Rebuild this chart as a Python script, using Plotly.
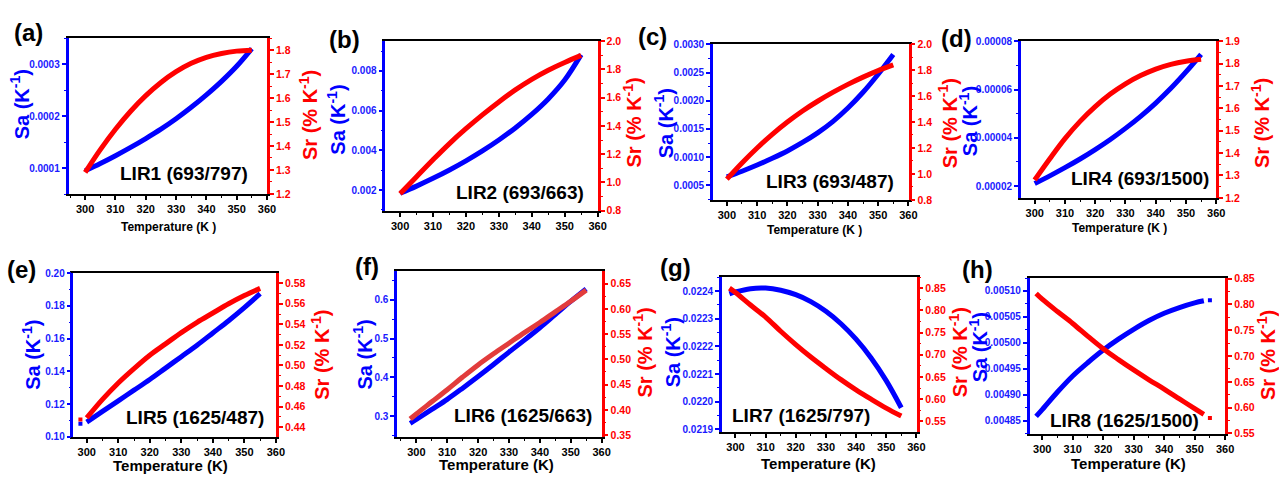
import plotly.graph_objects as go

W, H = 1279, 479
BLUE = "#0000ff"
BLUE_TXT = "#1a1aff"
RED = "#ff0000"
RED_F = "#e23c3c"
FONT = "Liberation Sans, Arial, sans-serif"

# ---------------- data ----------------
T_a = [300, 305, 310, 315, 320, 325, 330, 335, 340, 345, 350, 355]
SA_a = [0.000095, 0.000109, 0.000124, 0.000140, 0.000157, 0.000175, 0.000195, 0.000217, 0.000241, 0.000267, 0.000296, 0.000330]
SR_a = [1.29, 1.385, 1.47, 1.545, 1.61, 1.665, 1.71, 1.745, 1.77, 1.786, 1.796, 1.80]

T_b = [300, 305, 310, 315, 320, 325, 330, 335, 340, 345, 350, 355]
SA_b = [0.00184, 0.00220, 0.00259, 0.00301, 0.00347, 0.00397, 0.00452, 0.00513, 0.00581, 0.00659, 0.00754, 0.00882]
SR_b = [0.92, 1.04, 1.16, 1.275, 1.38, 1.478, 1.57, 1.655, 1.73, 1.795, 1.85, 1.90]

T_c = [300, 305, 310, 315, 320, 325, 330, 335, 340, 345, 350, 355]
SA_c = [0.00065, 0.00075, 0.00086, 0.00098, 0.00111, 0.00126, 0.00143, 0.00163, 0.00187, 0.00215, 0.00247, 0.00282]
SR_c = [0.96, 1.085, 1.20, 1.305, 1.40, 1.485, 1.56, 1.628, 1.69, 1.746, 1.796, 1.84]

T_d = [300, 305, 310, 315, 320, 325, 330, 335, 340, 345, 350, 355]
SA_d = [2.10e-5, 2.42e-5, 2.76e-5, 3.12e-5, 3.51e-5, 3.93e-5, 4.39e-5, 4.89e-5, 5.44e-5, 6.05e-5, 6.73e-5, 7.46e-5]
SR_d = [1.28, 1.375, 1.465, 1.542, 1.608, 1.664, 1.71, 1.747, 1.776, 1.797, 1.811, 1.82]

T_e = [300, 305, 310, 315, 320, 325, 330, 335, 340, 345, 350, 355]
SA_e = [0.109, 0.1155, 0.122, 0.1285, 0.135, 0.142, 0.149, 0.156, 0.1635, 0.171, 0.179, 0.1875]
SR_e = [0.449, 0.467, 0.483, 0.497, 0.510, 0.521, 0.532, 0.542, 0.551, 0.560, 0.568, 0.575]
T_e_extra = [298]
SA_e_extra = [0.108]
SR_e_extra = [0.4475]

T_f = [298, 300, 305, 310, 315, 320, 325, 330, 335, 340, 345, 350, 355]
SA_f = [0.281, 0.291, 0.317, 0.343, 0.372, 0.402, 0.433, 0.465, 0.496, 0.528, 0.562, 0.596, 0.628]
SR_f = [0.382, 0.392, 0.416, 0.440, 0.465, 0.489, 0.511, 0.532, 0.553, 0.573, 0.594, 0.615, 0.637]

T_g = [298, 300, 305, 310, 315, 320, 325, 330, 335, 340, 345, 350, 355]
SA_g = [0.022390, 0.022397, 0.022409, 0.022411, 0.022403, 0.022387, 0.022362, 0.022327, 0.022282, 0.022226, 0.022158, 0.022076, 0.021978]
SR_g = [0.850, 0.840, 0.812, 0.785, 0.753, 0.723, 0.695, 0.669, 0.644, 0.621, 0.600, 0.580, 0.562]

T_h = [298, 300, 305, 310, 315, 320, 325, 330, 335, 340, 345, 350, 353]
SA_h = [0.004858, 0.004871, 0.004905, 0.004936, 0.004962, 0.004986, 0.005007, 0.005026, 0.005043, 0.005057, 0.005068, 0.005077, 0.005081]
SR_h = [0.821, 0.810, 0.786, 0.763, 0.738, 0.714, 0.693, 0.673, 0.654, 0.636, 0.617, 0.598, 0.587]
T_h_extra = [355]
SA_h_extra = [0.005082]
SR_h_extra = [0.580]

LETTERS = ["(a)", "(b)", "(c)", "(d)", "(e)", "(f)", "(g)", "(h)"]
LIR_LABELS = ["LIR1 (693/797)", "LIR2 (693/663)", "LIR3 (693/487)", "LIR4 (693/1500)",
              "LIR5 (1625/487)", "LIR6 (1625/663)", "LIR7 (1625/797)", "LIR8 (1625/1500)"]
XTITLES = ["Temperature (K )", None, "Temperature (K )", "Temperature (K )",
           "Temperature (K)", "Temperature (K)", "Temperature (K)", "Temperature (K)"]
SA_TITLE = "Sa (K<sup>-1</sup>)"
SR_TITLE = "Sr (% K<sup>-1</sup>)"

series = [
    (T_a, SA_a, SR_a), (T_b, SA_b, SR_b), (T_c, SA_c, SR_c), (T_d, SA_d, SR_d),
    (T_e, SA_e, SR_e), (T_f, SA_f, SR_f), (T_g, SA_g, SR_g), (T_h, SA_h, SR_h),
]

# ---------------- layout (pixel boxes and axis settings) ----------------
panels = [
    dict(box=(69, 269, 33, 193), xr=(294.5, 360.05), yl=(0.00005, 0.00035), yr=(1.199, 1.85),
         ldt=0.0001, lfmt=".4f", rdt=0.1, rfmt=".1f",
         letter=(29, 27), sa=(20, 101), sr=(310, 112), xt=(170, 227), lir=(252, 172)),
    dict(box=(388, 602, 36, 210), xr=(295.5, 360.05), yl=(0.00096, 0.0095), yr=(0.799, 2.001),
         ldt=0.002, lfmt=".3f", rdt=0.2, rfmt=".1f",
         letter=(347, 34), sa=(338, 117), sr=(637, 120), xt=None, lir=(590, 191)),
    dict(box=(718, 915, 39, 199), xr=(295.4, 360.05), yl=(0.00024, 0.003005), yr=(0.799, 2.001),
         ldt=0.0005, lfmt=".4f", rdt=0.2, rfmt=".1f",
         letter=(657, 31), sa=(669, 120), sr=(955, 120), xt=(820, 230), lir=(902, 180)),
    dict(box=(1028, 1225, 36, 197), xr=(295.4, 360.05), yl=(0.000015, 0.0000801), yr=(1.199, 1.901),
         ldt=0.00002, lfmt=".5f", rdt=0.1, rfmt=".1f",
         letter=(963, 33), sa=(975, 118), sr=(1270, 120), xt=(1127, 228), lir=(1220, 177)),
    dict(box=(74, 278, 274, 442), xr=(295.8, 360.05), yl=(0.0999, 0.2001), yr=(0.4305, 0.5898),
         ldt=0.02, lfmt=".2f", rdt=0.02, rfmt=".2f",
         letter=(22, 270), sa=(31, 358), sr=(322, 358), xt=(172, 471), lir=(268, 422)),
    dict(box=(400, 606, 272, 442), xr=(293.8, 360.05), yl=(0.246, 0.674), yr=(0.3465, 0.6745),
         ldt=0.1, lfmt=".1f", rdt=0.05, rfmt=".2f",
         letter=(370, 267), sa=(365, 357), sr=(647, 355), xt=(500, 470), lir=(598, 420)),
    dict(box=(727, 923, 278, 437), xr=(295.5, 360.05), yl=(0.02189, 0.022451), yr=(0.526, 0.875),
         ldt=0.0001, lfmt=".4f", rdt=0.05, rfmt=".2f",
         letter=(680, 268), sa=(675, 355), sr=(965, 355), xt=(824, 469), lir=(878, 420)),
    dict(box=(1037, 1234, 279, 439), xr=(295.9, 360.05), yl=(0.004824, 0.005125), yr=(0.549, 0.851),
         ldt=0.00005, lfmt=".5f", rdt=0.05, rfmt=".2f",
         letter=(984, 270), sa=(985, 350), sr=(1275, 358), xt=(1136, 469), lir=(1210, 425)),
]


def fx(px):
    return px / W


def fy(py):
    return 1 - py / H


fig = go.Figure()
layout = dict(
    width=W, height=H, margin=dict(l=0, r=0, t=0, b=0),
    paper_bgcolor="white", plot_bgcolor="white", showlegend=False,
    font=dict(family=FONT),
)
annotations = []

for i, (p, (T, SA, SR)) in enumerate(zip(panels, series)):
    n = i + 1
    xname = "x" if n == 1 else f"x{n}"
    xkey = "xaxis" if n == 1 else f"xaxis{n}"
    il, ir = 2 * i + 1, 2 * i + 2
    ylname = "y" if il == 1 else f"y{il}"
    ylkey = "yaxis" if il == 1 else f"yaxis{il}"
    yrname = f"y{ir}"
    yrkey = f"yaxis{ir}"
    x0, x1, y0, y1 = p["box"]

    layout[xkey] = dict(
        domain=[fx(x0), fx(x1)], anchor=ylname, range=list(p["xr"]),
        showline=True, linecolor="black", linewidth=2, mirror=True,
        ticks="outside", ticklen=4, tickwidth=1.5, tickcolor="black",
        tick0=300, dtick=10, tickformat="d",
        tickfont=dict(size=11, color="black", weight="bold", family=FONT),
        minor=dict(ticks="outside", ticklen=2, tickwidth=1, tickcolor="black", dtick=5),
        showgrid=False, zeroline=False,
    )
    layout[ylkey] = dict(
        domain=[fy(y1), fy(y0)], anchor=xname, range=list(p["yl"]), side="left",
        showline=True, linecolor=BLUE, linewidth=2.5,
        ticks="outside", ticklen=4, tickwidth=1.5, tickcolor=BLUE,
        dtick=p["ldt"], tick0=0, tickformat=p["lfmt"],
        tickfont=dict(size=10, color=BLUE_TXT, weight="bold", family=FONT),
        minor=dict(ticks="outside", ticklen=2, tickwidth=1, tickcolor=BLUE, dtick=p["ldt"] / 2),
        showgrid=False, zeroline=False,
    )
    layout[yrkey] = dict(
        overlaying=ylname, anchor=xname, range=list(p["yr"]), side="right",
        showline=True, linecolor=RED, linewidth=2.5,
        ticks="outside", ticklen=4, tickwidth=1.5, tickcolor=RED,
        dtick=p["rdt"], tick0=0, tickformat=p["rfmt"],
        tickfont=dict(size=10.5, color=RED, weight="bold", family=FONT),
        minor=dict(ticks="outside", ticklen=2, tickwidth=1, tickcolor=RED, dtick=p["rdt"] / 2),
        showgrid=False, zeroline=False,
    )

    red = RED_F if n == 6 else RED
    fig.add_trace(go.Scatter(x=T, y=SA, xaxis=xname, yaxis=ylname, mode="lines",
                             line=dict(color=BLUE, width=5, shape="spline", smoothing=1.0),
                             hoverinfo="skip"))
    fig.add_trace(go.Scatter(x=T, y=SR, xaxis=xname, yaxis=yrname, mode="lines",
                             line=dict(color=red, width=5, shape="spline", smoothing=1.0),
                             hoverinfo="skip"))

    # annotations
    lx, ly = p["letter"]
    annotations.append(dict(text="<b>%s</b>" % LETTERS[i], x=fx(lx), y=fy(ly), xref="paper", yref="paper",
                            showarrow=False, xanchor="center", yanchor="middle",
                            font=dict(size=24, color="black", family=FONT)))
    sx, sy = p["sa"]
    annotations.append(dict(text="<b>%s</b>" % SA_TITLE, x=fx(sx), y=fy(sy), xref="paper", yref="paper",
                            showarrow=False, textangle=-90, xanchor="center", yanchor="middle",
                            font=dict(size=20, color=BLUE, family=FONT)))
    rx, ry = p["sr"]
    annotations.append(dict(text="<b>%s</b>" % SR_TITLE, x=fx(rx), y=fy(ry), xref="paper", yref="paper",
                            showarrow=False, textangle=-90, xanchor="center", yanchor="middle",
                            font=dict(size=20, color=RED, family=FONT)))
    if XTITLES[i] and p["xt"]:
        tx, ty = p["xt"]
        annotations.append(dict(text="<b>%s</b>" % XTITLES[i], x=fx(tx), y=fy(ty), xref="paper", yref="paper",
                                showarrow=False, xanchor="center", yanchor="middle",
                                font=dict(size=12 if n <= 4 else 15, color="black", family=FONT)))
    ax_, ay_ = p["lir"]
    annotations.append(dict(text="<b>%s</b>" % LIR_LABELS[i], x=fx(ax_), y=fy(ay_), xref="paper", yref="paper",
                            showarrow=False, xanchor="right", yanchor="middle",
                            font=dict(size=19, color="black", family=FONT)))

# stray single points
fig.add_trace(go.Scatter(x=T_e_extra, y=SA_e_extra, xaxis="x5", yaxis="y9", mode="markers",
                         marker=dict(color=BLUE, size=4, symbol="square"), hoverinfo="skip"))
fig.add_trace(go.Scatter(x=T_e_extra, y=SR_e_extra, xaxis="x5", yaxis="y10", mode="markers",
                         marker=dict(color=RED, size=4, symbol="square"), hoverinfo="skip"))
fig.add_trace(go.Scatter(x=T_h_extra, y=SA_h_extra, xaxis="x8", yaxis="y15", mode="markers",
                         marker=dict(color=BLUE, size=4, symbol="square"), hoverinfo="skip"))
fig.add_trace(go.Scatter(x=T_h_extra, y=SR_h_extra, xaxis="x8", yaxis="y16", mode="markers",
                         marker=dict(color=RED, size=4, symbol="square"), hoverinfo="skip"))

layout["annotations"] = annotations
fig.update_layout(**layout)
fig.write_html("out.html")
